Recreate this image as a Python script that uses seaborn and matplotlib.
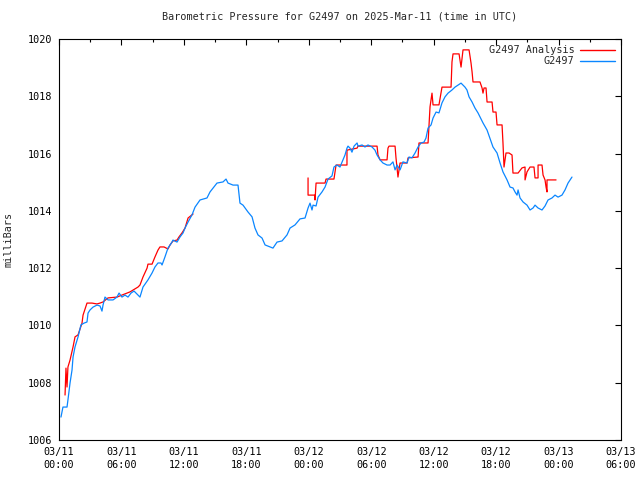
import numpy as np
import pandas as pd
import seaborn as sns
import matplotlib
matplotlib.use("Agg")
import matplotlib.pyplot as plt
from matplotlib.lines import Line2D

# hours since 2025-03-11 00:00 UTC, pressure in mbar
obs_hours = [0.19, 0.38, 0.77, 0.86, 1.06, 1.25, 1.35, 1.54, 1.83, 2.11, 2.40, 2.69, 2.79, 2.98,
             3.27, 3.65, 3.94, 4.13, 4.23, 4.42, 4.71, 5.19, 5.57, 5.77, 6.05, 6.34, 6.63, 6.92,
             7.21, 7.59, 7.78, 7.98, 8.07, 8.55, 8.94, 9.22, 9.51, 9.80, 9.90, 10.18, 10.47, 10.86,
             10.95, 11.34, 11.63, 11.92, 12.11, 12.40, 12.78, 13.07, 13.55, 14.22, 14.51, 15.18,
             15.76, 16.05, 16.24, 16.72, 17.20, 17.39, 17.68, 18.16, 18.55, 18.83, 19.12, 19.51,
             19.80, 20.08, 20.56, 20.95, 21.43, 21.91, 22.20, 22.68, 23.16, 23.64, 23.93, 24.12,
             24.31, 24.41, 24.70, 24.89, 25.27, 25.56, 25.85, 26.23, 26.42, 26.71, 27.00, 27.29,
             27.48, 27.67, 27.77, 27.96, 28.15, 28.35, 28.64, 28.73, 29.12, 29.40, 29.69, 30.08,
             30.36, 30.56, 30.85, 31.13, 31.52, 31.81, 32.09, 32.29, 32.48, 32.77, 33.05, 33.44,
             33.63, 33.92, 34.21, 34.50, 34.78, 35.07, 35.26, 35.46, 35.75, 35.94, 36.23, 36.51,
             36.80, 37.09, 37.38, 37.76, 38.05, 38.34, 38.63, 38.82, 39.01, 39.20, 39.40, 39.69,
             39.97, 40.26, 40.74, 41.13, 41.40, 41.70, 42.09, 42.38, 42.66, 43.05, 43.34, 43.62,
             43.82, 44.01, 44.11, 44.30, 44.59, 44.97, 45.26, 45.55, 45.74, 46.03, 46.41, 46.70,
             46.99, 47.37, 47.66, 47.95, 48.33, 48.62, 48.91, 49.29]
obs_mbar = [1006.80, 1007.15, 1007.15, 1007.40, 1007.99, 1008.44, 1008.90, 1009.25, 1009.60,
            1010.02, 1010.08, 1010.12, 1010.43, 1010.54, 1010.64, 1010.71, 1010.68, 1010.50,
            1010.71, 1010.99, 1010.89, 1010.89, 1010.99, 1011.13, 1010.99, 1011.06, 1010.99,
            1011.13, 1011.20, 1011.06, 1010.99, 1011.24, 1011.34, 1011.59, 1011.83, 1012.04,
            1012.18, 1012.18, 1012.11, 1012.39, 1012.70, 1012.91, 1012.98, 1012.91, 1013.09,
            1013.23, 1013.40, 1013.61, 1013.86, 1014.13, 1014.38, 1014.45, 1014.66, 1014.97,
            1015.01, 1015.11, 1014.97, 1014.90, 1014.90, 1014.27, 1014.20, 1013.96, 1013.79,
            1013.40, 1013.16, 1013.05, 1012.81, 1012.77, 1012.70, 1012.91, 1012.95, 1013.16,
            1013.40, 1013.51, 1013.72, 1013.75, 1014.10, 1014.27, 1014.03, 1014.20, 1014.17,
            1014.48, 1014.66, 1014.83, 1015.11, 1015.22, 1015.53, 1015.60, 1015.53, 1015.78,
            1015.95, 1016.19, 1016.26, 1016.19, 1016.05, 1016.26, 1016.37, 1016.26, 1016.30,
            1016.23, 1016.30, 1016.23, 1016.12, 1015.95, 1015.78, 1015.67, 1015.60, 1015.60,
            1015.71, 1015.43, 1015.60, 1015.43, 1015.71, 1015.67, 1015.88, 1015.85, 1016.02,
            1016.23, 1016.37, 1016.40, 1016.54, 1016.89, 1017.00, 1017.24, 1017.45, 1017.42,
            1017.77, 1017.98, 1018.11, 1018.22, 1018.32, 1018.39, 1018.46, 1018.39, 1018.32,
            1018.22, 1017.98, 1017.80, 1017.59, 1017.42, 1017.07, 1016.82, 1016.54, 1016.23,
            1016.02, 1015.67, 1015.36, 1015.08, 1014.83, 1014.80, 1014.66, 1014.55, 1014.73,
            1014.45, 1014.31, 1014.20, 1014.03, 1014.10, 1014.20, 1014.10, 1014.03, 1014.17,
            1014.38, 1014.45, 1014.55, 1014.48, 1014.55, 1014.73, 1014.97, 1015.18]

# analysis has a gap between ~13h and 24h: two segments
ana1_hours = [0.58, 0.67, 0.77, 0.86, 1.06, 1.35, 1.54, 1.83, 2.21, 2.31, 2.69, 3.17, 3.65,
              3.94, 4.23, 4.71, 5.57, 6.05, 6.82, 7.59, 7.78, 8.07, 8.46, 8.55, 8.94, 9.22,
              9.51, 9.70, 10.09, 10.47, 10.67, 10.95, 11.34, 11.53, 11.82, 12.11, 12.40, 12.88]
ana1_mbar = [1007.57, 1008.51, 1007.85, 1008.55, 1008.79, 1009.25, 1009.60, 1009.67, 1010.08,
             1010.36, 1010.78, 1010.78, 1010.75, 1010.78, 1010.82, 1010.96, 1010.99, 1011.06,
             1011.17, 1011.34, 1011.41, 1011.69, 1012.00, 1012.14, 1012.14, 1012.39, 1012.63,
             1012.74, 1012.74, 1012.67, 1012.81, 1012.95, 1012.98, 1013.09, 1013.23, 1013.40,
             1013.75, 1013.89]
ana2_hours = [23.93, 23.93, 24.60, 24.60, 24.70, 25.56, 25.66, 26.42, 26.62, 27.67, 27.67,
              28.64, 28.73, 30.56, 30.65, 30.85, 31.52, 31.61, 31.71, 32.29, 32.38, 32.48,
              32.57, 32.77, 33.44, 33.54, 34.50, 34.59, 35.46, 35.65, 35.84, 35.94, 36.51,
              36.80, 37.67, 37.76, 37.86, 38.44, 38.63, 38.82, 39.40, 39.59, 39.69, 39.78,
              40.45, 40.65, 40.74, 40.84, 41.03, 41.13, 41.61, 41.70, 41.99, 42.09, 42.57,
              42.66, 42.76, 42.95, 43.24, 43.53, 43.62, 44.11, 44.49, 44.78, 44.78, 44.97,
              45.26, 45.64, 45.74, 46.03, 46.03, 46.41, 46.51, 46.70, 46.80, 46.89, 46.89, 47.76]
ana2_mbar = [1015.15, 1014.55, 1014.55, 1014.38, 1014.97, 1014.97, 1015.11, 1015.11, 1015.60,
             1015.60, 1016.12, 1016.19, 1016.26, 1016.26, 1015.95, 1015.78, 1015.78, 1016.19,
             1016.26, 1016.26, 1015.85, 1015.50, 1015.18, 1015.67, 1015.67, 1015.85, 1015.88,
             1016.37, 1016.37, 1017.63, 1018.11, 1017.70, 1017.70, 1018.32, 1018.32, 1019.20,
             1019.48, 1019.48, 1019.02, 1019.62, 1019.62, 1019.16, 1018.85, 1018.50, 1018.50,
             1018.29, 1018.11, 1018.29, 1018.29, 1017.80, 1017.80, 1017.45, 1017.45, 1017.00,
             1017.00, 1016.37, 1015.53, 1016.02, 1016.02, 1015.95, 1015.32, 1015.32, 1015.50,
             1015.53, 1015.08, 1015.36, 1015.53, 1015.53, 1015.15, 1015.15, 1015.60, 1015.60,
             1015.25, 1015.08, 1014.83, 1014.66, 1015.08, 1015.08]

tick_hours = [0, 6, 12, 18, 24, 30, 36, 42, 48, 54]
tick_labels = ["03/11\n00:00", "03/11\n06:00", "03/11\n12:00", "03/11\n18:00",
               "03/12\n00:00", "03/12\n06:00", "03/12\n12:00", "03/12\n18:00",
               "03/13\n00:00", "03/13\n06:00"]
y_ticks = [1006, 1008, 1010, 1012, 1014, 1016, 1018, 1020]

RED = "#ff0000"
BLUE = "#0a86ff"

df = pd.concat([
    pd.DataFrame({"hour": ana1_hours, "mbar": ana1_mbar, "series": "G2497 Analysis", "seg": 0}),
    pd.DataFrame({"hour": ana2_hours, "mbar": ana2_mbar, "series": "G2497 Analysis", "seg": 1}),
    pd.DataFrame({"hour": obs_hours, "mbar": obs_mbar, "series": "G2497", "seg": 2}),
], ignore_index=True)

sns.set_style("white")
plt.rcParams["font.family"] = ["DejaVu Sans Mono"]

fig = plt.figure(figsize=(6.4, 4.8), dpi=100)
ax = fig.add_axes([59 / 640, 40 / 480, 562 / 640, 401 / 480])

sns.lineplot(data=df, x="hour", y="mbar", hue="series", units="seg", estimator=None,
             sort=False, palette={"G2497 Analysis": RED, "G2497": BLUE},
             linewidth=0.9, legend=False, ax=ax)

ax.set_xlim(0, 54)
ax.set_ylim(1006, 1020)
ax.set_xticks(tick_hours)
ax.set_xticklabels(tick_labels, linespacing=1.35)
ax.set_xticks(np.arange(3, 54, 6), minor=True)
ax.set_yticks(y_ticks)
ax.tick_params(axis="both", which="both", direction="in", top=True, right=True,
               labelsize=7.3, colors="black", width=0.8, pad=5)
ax.tick_params(which="major", length=4.5)
ax.tick_params(which="minor", length=2.5)
for s in ax.spines.values():
    s.set_visible(True)
    s.set_color("black")
    s.set_linewidth(0.8)

ax.set_xlabel("")
ax.set_ylabel("milliBars", fontsize=7.3, labelpad=10)
ax.set_title("Barometric Pressure for G2497 on 2025-Mar-11 (time in UTC)", fontsize=7.3, pad=14)

handles = [Line2D([], [], color=RED, lw=1.0), Line2D([], [], color=BLUE, lw=1.0)]
ax.legend(handles, ["G2497 Analysis", "G2497"], loc="upper right", frameon=False,
          markerfirst=False, fontsize=7.3, handlelength=3.4, handletextpad=0.6,
          labelspacing=0.1, borderaxespad=0.2)

fig.savefig("out.png", dpi=100)
